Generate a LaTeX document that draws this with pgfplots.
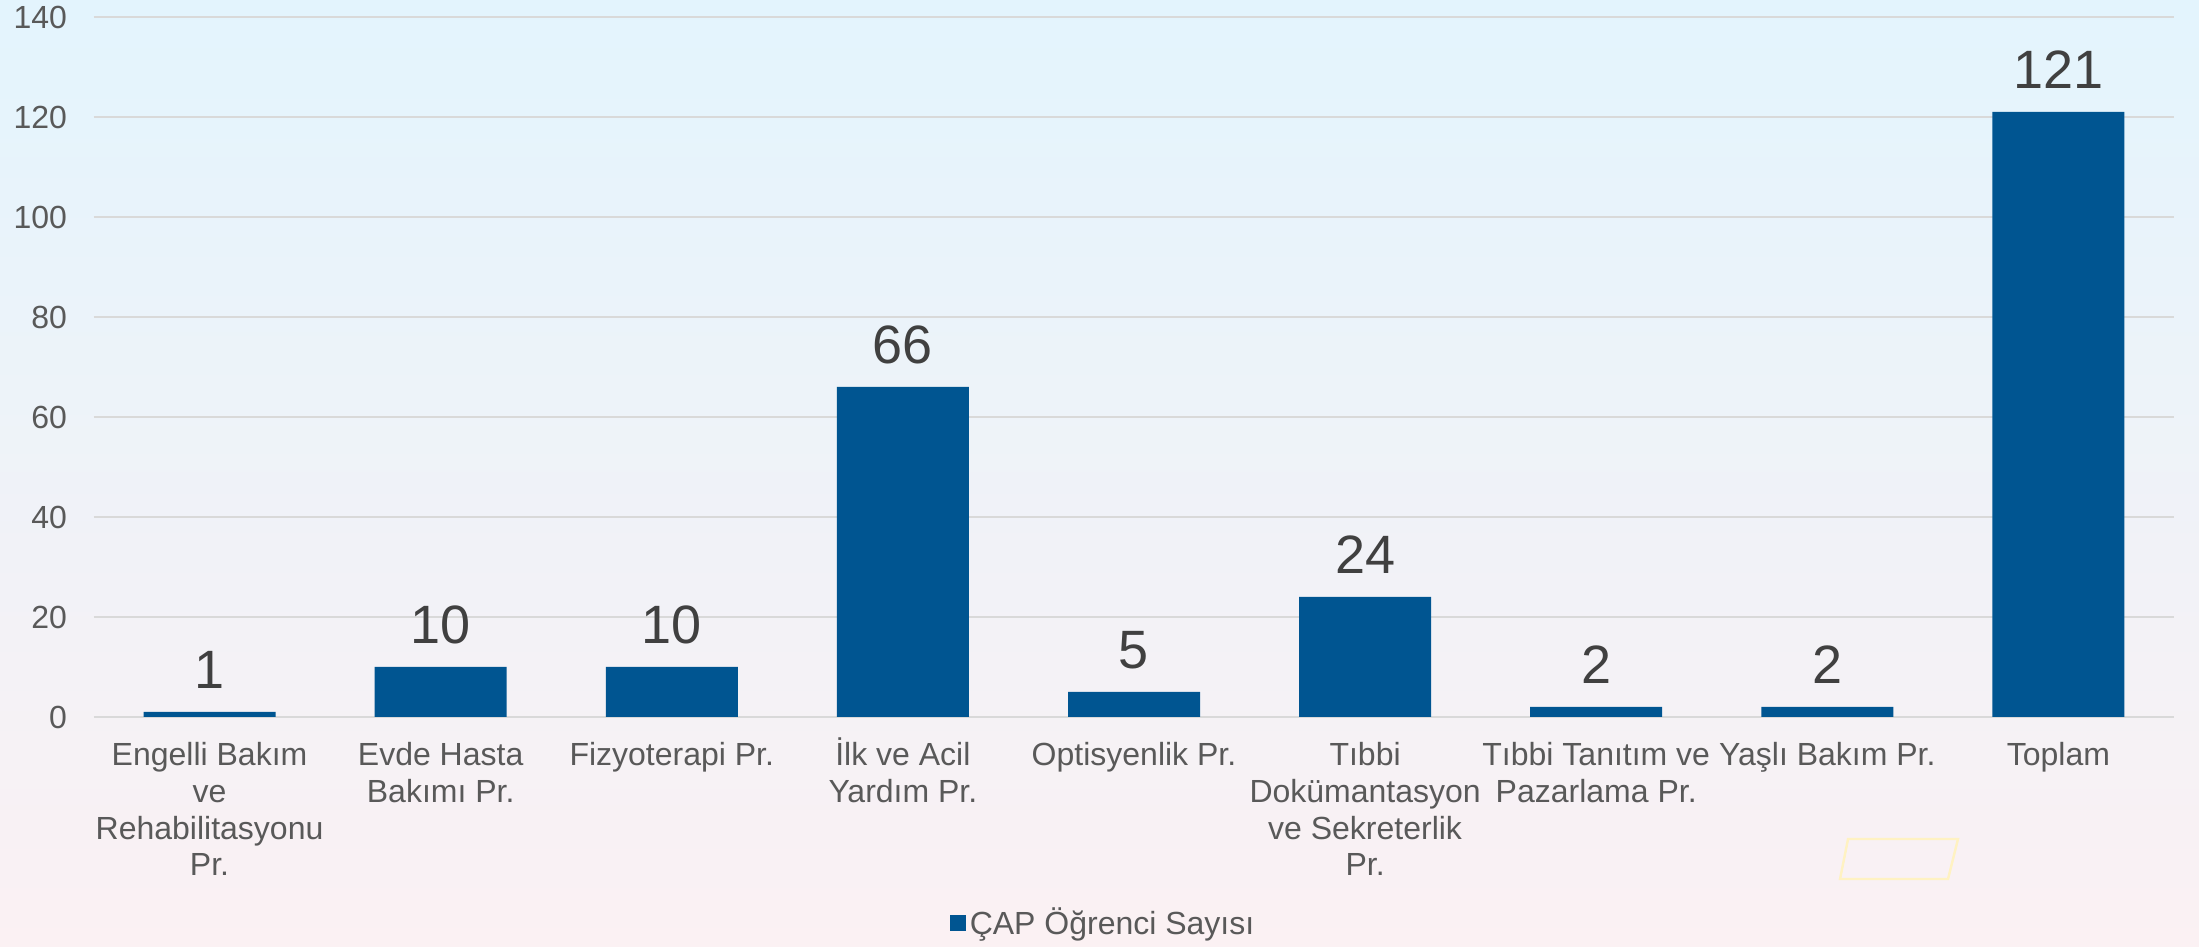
\documentclass[border=0pt]{standalone}
\usepackage{fontspec}
\setmainfont{Liberation Sans}
\usepackage{pgfplots}
\pgfplotsset{compat=1.18}
\definecolor{barblue}{HTML}{005591}
\definecolor{gridgray}{HTML}{D9D9D9}
\definecolor{ticktext}{HTML}{595959}
\definecolor{datatext}{HTML}{404040}
\definecolor{bgtop}{HTML}{E3F4FD}
\definecolor{bgmid}{HTML}{F1F2F7}
\definecolor{bgbot}{HTML}{FBF1F3}
\definecolor{stray}{HTML}{FFF2C2}
\newcommand\st{\rule{0pt}{15pt}}
\begin{document}
\begin{tikzpicture}
\shade[top color=bgtop, middle color=bgmid, bottom color=bgbot] (0,0) rectangle (1099.5pt,473.5pt);
\draw[stray, line width=1.2pt] (924pt,54pt) -- (979pt,54pt) -- (974pt,34pt) -- (920pt,34pt) -- cycle;
\begin{axis}[
  at={(47pt,115pt)}, anchor=south west,
  scale only axis, width=1040pt, height=350pt,
  xmin=-0.5, xmax=8.5, ymin=0, ymax=140,
  ytick={0,20,...,140},
  xtick={0,...,8},
  xticklabels={
    {\st Engelli Bakım\\ve\\Rehabilitasyonu\\Pr.},
    {\st Evde Hasta\\Bakımı Pr.},
    {\st Fizyoterapi Pr.},
    {\st İlk ve Acil\\Yardım Pr.},
    {\st Optisyenlik Pr.},
    {\st Tıbbi\\Dokümantasyon\\ve Sekreterlik\\Pr.},
    {\st Tıbbi Tanıtım ve\\Pazarlama Pr.},
    {\st Yaşlı Bakım Pr.},
    {\st Toplam}},
  axis line style={draw=none},
  major tick length=0pt,
  ymajorgrids, grid style={gridgray, line width=0.75pt},
  /pgf/number format/assume math mode=true,
  yticklabel style={font=\fontsize{16}{18.4}\selectfont, text=ticktext, anchor=east, inner sep=0pt, xshift=-13.3pt},
  xticklabel style={font=\fontsize{16}{18.4}\selectfont, text=ticktext, anchor=north, inner sep=0pt, yshift=-9pt, align=center},
  legend style={at={(axis description cs:0.4856,-0.294)}, anchor=center, draw=none, fill=none,
    font=\fontsize{16}{18.4}\selectfont, text=ticktext, inner sep=0pt,
    /tikz/every even column/.style={column sep=0pt}},
  legend cell align=left,
]
\addplot[ybar, bar width=66pt, fill=barblue, draw=none,
  nodes near coords,
  every node near coord/.append style={font=\fontsize{27}{32}\selectfont, text=datatext, anchor=south, inner sep=0pt, yshift=11.5pt},
  legend image code/.code={\fill[barblue] (0pt,-4pt) rectangle (8pt,4pt);}
] coordinates {(0,1) (1,10) (2,10) (3,66) (4,5) (5,24) (6,2) (7,2) (8,121)};
\addlegendentry{ÇAP Öğrenci Sayısı}
\end{axis}
\pgfresetboundingbox
\path (0,0) rectangle (1099.5pt,473.5pt);
\end{tikzpicture}
\end{document}
